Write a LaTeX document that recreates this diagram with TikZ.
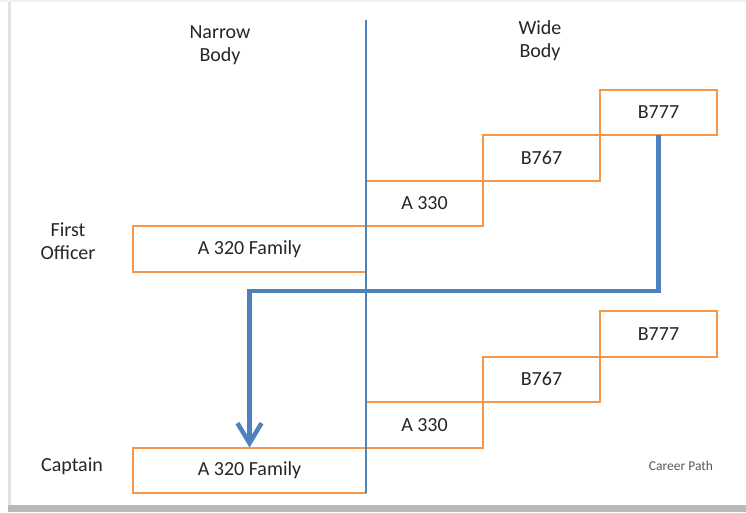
\documentclass[tikz,border=0pt]{standalone}
\usepackage{fontspec}
\setmainfont{Carlito}
\usetikzlibrary{arrows.meta,positioning}

\definecolor{boxorange}{HTML}{F79646}
\definecolor{pathblue}{HTML}{4F81BD}
\definecolor{txtgrey}{HTML}{262626}

\tikzset{
  plane/.style={draw=boxorange, line width=2pt, minimum height=45.5pt,
    minimum width=117pt, inner sep=0pt, outer sep=0pt, text=txtgrey,
    font=\fontsize{20}{23}\selectfont},
  narrowplane/.style={plane, minimum width=233pt},
  heading/.style={align=center, text=txtgrey, font=\fontsize{20}{23}\selectfont},
  divider/.style={color=pathblue, line width=2pt},
  careerpath/.style={color=pathblue, line width=4.5pt,
    -{Straight Barb[length=20pt 0, width=24pt 0]}},
}

\begin{document}
\begin{tikzpicture}[x=1pt, y=-1pt]
\useasboundingbox (0,0) rectangle (746,512);
\fill[white] (0,0) rectangle (746,512);

% page edge shadow
\fill[gray!10] (0,0) rectangle (746,2);
\fill[gray!22] (8,2) rectangle (10.5,505);
\fill[gray!55] (8,505) rectangle (746,512);

% column headings
\node[heading] (narrow) at (220,45) {Narrow\\Body};
\node[heading] (wide) at (540,41) {Wide\\Body};

% first officer stairs
\node[narrowplane] (fo320) at (249.5,248.75) {A 320 Family};
\node[plane, anchor=south west] (fo330) at (fo320.north east) {A 330};
\node[plane, anchor=south west] (fo767) at (fo330.north east) {B767};
\node[plane, anchor=south west] (fo777) at (fo767.north east) {B777};

% captain stairs
\node[narrowplane] (ca320) at (249.5,470.25) {A 320 Family};
\node[plane, anchor=south west] (ca330) at (ca320.north east) {A 330};
\node[plane, anchor=south west] (ca767) at (ca330.north east) {B767};
\node[plane, anchor=south west] (ca777) at (ca767.north east) {B777};

% rank labels
\node[heading] (fo) at (68,241) {First\\Officer};
\node[heading] (capt) at (72,466) {Captain};
\node[text=gray!70!black, font=\fontsize{13.5}{15}\selectfont] (legend) at (681,466) {Career Path};

% narrow / wide divider, over the box edges
\coordinate (divtop) at (365.5,20);
\draw[divider] (divtop) -- (divtop |- ca320.south);

% career path arrow
\coordinate (turn) at (0,291);
\draw[careerpath] (fo777.south) -- (fo777.south |- turn) -| (ca320.north);
\end{tikzpicture}
\end{document}
